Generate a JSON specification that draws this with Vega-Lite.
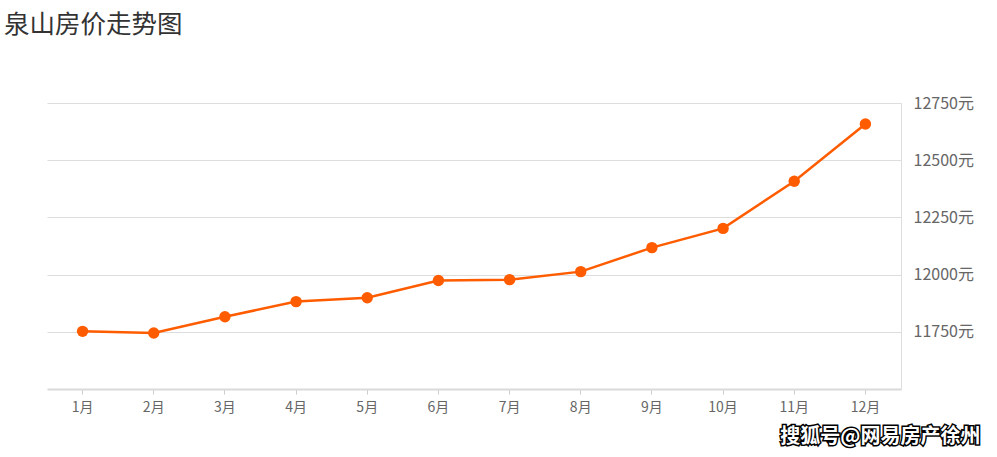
{
  "$schema": "https://vega.github.io/schema/vega-lite/v6.json",
  "width": 854,
  "height": 286,
  "autosize": "none",
  "padding": {"left": 47, "top": 103, "right": 96, "bottom": 68},
  "background": "#ffffff",
  "title": {
    "text": "泉山房价走势图",
    "anchor": "start",
    "frame": "group",
    "dx": -43,
    "offset": 57,
    "font": "Noto Sans CJK SC",
    "fontSize": 25.5,
    "fontWeight": "normal",
    "color": "#333333"
  },
  "config": {
    "view": {"stroke": null},
    "font": "Noto Sans CJK SC"
  },
  "data": {
    "values": [
      {"month": "1月", "price": 11752},
      {"month": "2月", "price": 11745},
      {"month": "3月", "price": 11816},
      {"month": "4月", "price": 11882},
      {"month": "5月", "price": 11899},
      {"month": "6月", "price": 11974},
      {"month": "7月", "price": 11978},
      {"month": "8月", "price": 12013},
      {"month": "9月", "price": 12118},
      {"month": "10月", "price": 12202},
      {"month": "11月", "price": 12408},
      {"month": "12月", "price": 12658}
    ]
  },
  "encoding": {
    "x": {
      "field": "month",
      "type": "ordinal",
      "sort": null,
      "scale": {"type": "band", "paddingInner": 0, "paddingOuter": 0},
      "axis": {
        "title": null,
        "labelAngle": 0,
        "labelFontSize": 14,
        "labelColor": "#666666",
        "labelPadding": 6,
        "tickColor": "#cccccc",
        "tickSize": 5,
        "domainColor": "#d9d9d9",
        "domainWidth": 2,
        "grid": false
      }
    },
    "y": {
      "field": "price",
      "type": "quantitative",
      "scale": {"domain": [11500, 12750], "nice": false, "zero": false},
      "axis": {
        "orient": "right",
        "title": null,
        "values": [11750, 12000, 12250, 12500, 12750],
        "labelExpr": "datum.value + '元'",
        "labelFontSize": 16,
        "labelColor": "#666666",
        "labelPadding": 12,
        "ticks": false,
        "domainColor": "#dddddd",
        "domainWidth": 1,
        "gridColor": "#dddddd",
        "gridWidth": 1
      }
    }
  },
  "layer": [
    {
      "mark": {"type": "line", "color": "#ff5c00", "strokeWidth": 2.5}
    },
    {
      "mark": {"type": "point", "filled": true, "color": "#ff5c00", "size": 130, "opacity": 1}
    },
    {
      "data": {"values": [{"month": "12月", "price": 11500, "wm": "搜狐号@网易房产徐州"}]},
      "mark": {"type": "text", "align": "center", "baseline": "middle", "dx": 15, "dy": 48, "fontSize": 20, "fontWeight": "bold", "fill": "#000000", "stroke": "#000000", "strokeWidth": 3},
      "encoding": {"text": {"field": "wm"}}
    },
    {
      "data": {"values": [{"month": "12月", "price": 11500, "wm": "搜狐号@网易房产徐州"}]},
      "mark": {"type": "text", "align": "center", "baseline": "middle", "dx": 15, "dy": 48, "fontSize": 20, "fontWeight": "bold", "fill": "#ffffff"},
      "encoding": {"text": {"field": "wm"}}
    }
  ]
}
